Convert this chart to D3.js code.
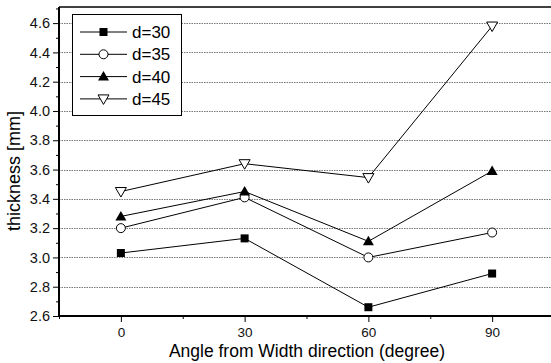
<!DOCTYPE html>
<html>
<head>
<meta charset="utf-8">
<script src="https://cdn.jsdelivr.net/npm/d3@7"></script>
<style>
  html, body { margin: 0; padding: 0; background: #fff; overflow: hidden; }
  svg { display: block; font-family: "Liberation Sans", Arial, sans-serif; }
</style>
</head>
<body>
<svg id="chart"></svg>
<script>
const angles = [0, 30, 60, 90];
const seriesNames = ['d=30', 'd=35', 'd=40', 'd=45'];
const d30 = [3.03, 3.13, 2.66, 2.89];
const d35 = [3.20, 3.41, 3.00, 3.17];
const d40 = [3.28, 3.45, 3.11, 3.59];
const d45 = [3.45, 3.64, 3.545, 4.58];
const xTicks = [0, 30, 60, 90];
const yTicks = [2.6, 2.8, 3.0, 3.2, 3.4, 3.6, 3.8, 4.0, 4.2, 4.4, 4.6];

const width = 551, height = 363;
const plotLeft = 59, plotRight = 554, plotTop = 7, plotBottom = 316;

const svg = d3.select('#chart').attr('width', width).attr('height', height);

const x = d3.scaleLinear().domain([-15, 105]).range([plotLeft, plotRight]);
const y = d3.scaleLinear().domain([2.6, 4.71]).range([plotBottom, plotTop]);

// dotted grid
svg.append('g')
  .selectAll('line')
  .data(yTicks.filter(v => v > 2.6))
  .enter().append('line')
  .attr('x1', plotLeft).attr('x2', width)
  .attr('y1', d => Math.round(y(d)) + 0.5).attr('y2', d => Math.round(y(d)) + 0.5)
  .attr('stroke', '#777')
  .attr('stroke-width', 1)
  .attr('stroke-dasharray', '1.5,1');

// frame top
svg.append('line')
  .attr('x1', plotLeft).attr('x2', width)
  .attr('y1', plotTop).attr('y2', plotTop)
  .attr('stroke', '#000').attr('stroke-width', 1.5);

// axes
const yAxis = d3.axisLeft(y).tickValues(yTicks).tickFormat(d3.format('.1f')).tickSize(6).tickPadding(3);
const gy = svg.append('g').attr('transform', `translate(${plotLeft},0)`).call(yAxis);
gy.select('.domain').remove();
gy.selectAll('text').style('font-size', '14.5px').attr('fill', '#111');

const yMinor = d3.axisLeft(y).tickValues(d3.range(2.7, 4.71, 0.2)).tickFormat('').tickSize(3);
const gym = svg.append('g').attr('transform', `translate(${plotLeft},0)`).call(yMinor);
gym.select('.domain').remove();

const xAxis = d3.axisBottom(x).tickValues(xTicks).tickFormat(d3.format('d')).tickSize(6).tickPadding(5);
const gx = svg.append('g').attr('transform', `translate(0,${plotBottom})`).call(xAxis);
gx.select('.domain').remove();
gx.selectAll('text').style('font-size', '13.5px').attr('fill', '#111');

const xMinor = d3.axisBottom(x).tickValues([-15, 15, 45, 75]).tickFormat('').tickSize(3);
const gxm = svg.append('g').attr('transform', `translate(0,${plotBottom})`).call(xMinor);
gxm.select('.domain').remove();

svg.append('line')
  .attr('x1', plotLeft).attr('x2', plotLeft).attr('y1', plotTop).attr('y2', plotBottom + 1)
  .attr('stroke', '#000').attr('stroke-width', 2);
svg.append('line')
  .attr('x1', plotLeft).attr('x2', width).attr('y1', plotBottom).attr('y2', plotBottom)
  .attr('stroke', '#000').attr('stroke-width', 2);

// titles
svg.append('text')
  .attr('x', 307).attr('y', 357)
  .attr('text-anchor', 'middle')
  .style('font-size', '17.5px')
  .text('Angle from Width direction (degree)');

svg.append('text')
  .attr('transform', `translate(20,171) rotate(-90)`)
  .attr('text-anchor', 'middle')
  .style('font-size', '18px')
  .text('thickness [mm]');

// series
const allSeries = [d30, d35, d40, d45];
const markers = ['square', 'circle', 'triangle', 'tridown'];

function drawMarker(g, type, cx, cy) {
  if (type === 'square') {
    g.append('rect').attr('x', cx - 4).attr('y', cy - 4).attr('width', 8).attr('height', 8)
      .attr('fill', '#000');
  } else if (type === 'circle') {
    g.append('circle').attr('cx', cx).attr('cy', cy).attr('r', 4.5)
      .attr('fill', '#fff').attr('stroke', '#000').attr('stroke-width', 1);
  } else if (type === 'triangle') {
    g.append('path').attr('d', `M${cx},${cy - 5.5}L${cx + 5.5},${cy + 4}L${cx - 5.5},${cy + 4}Z`)
      .attr('fill', '#000');
  } else {
    g.append('path').attr('d', `M${cx - 5.5},${cy - 4}L${cx + 5.5},${cy - 4}L${cx},${cy + 5.5}Z`)
      .attr('fill', '#fff').attr('stroke', '#000').attr('stroke-width', 1);
  }
}

const line = d3.line().x((d, i) => x(angles[i])).y(d => y(d));

allSeries.forEach((vals, k) => {
  const g = svg.append('g');
  g.append('path').datum(vals).attr('d', line)
    .attr('fill', 'none').attr('stroke', '#000').attr('stroke-width', 1);
  vals.forEach((v, i) => drawMarker(g, markers[k], x(angles[i]), y(v)));
});

// legend
const lg = svg.append('g');
lg.append('rect').attr('x', 72.5).attr('y', 14.5).attr('width', 109).attr('height', 101)
  .attr('fill', '#fff').attr('stroke', '#000').attr('stroke-width', 1);
seriesNames.forEach((name, k) => {
  const ly = 32 + k * 22.3;
  lg.append('line').attr('x1', 80).attr('x2', 127).attr('y1', ly).attr('y2', ly)
    .attr('stroke', '#000').attr('stroke-width', 1);
  drawMarker(lg, markers[k], 103.5, ly);
  lg.append('text').attr('x', 132).attr('y', ly + 6)
    .style('font-size', '17px').text(name);
});
</script>
</body>
</html>
